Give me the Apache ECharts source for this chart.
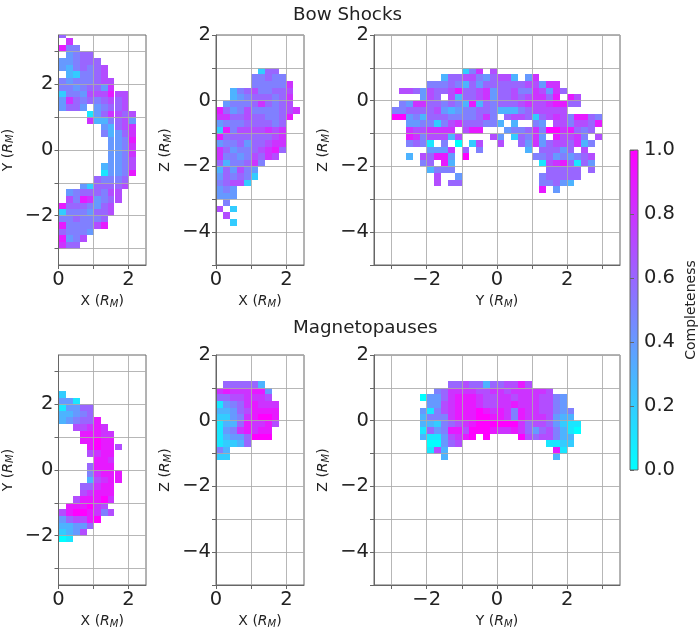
<!DOCTYPE html>
<html>
<head>
<meta charset="utf-8">
<title>Completeness</title>
<script src="https://cdn.jsdelivr.net/npm/echarts@6/dist/echarts.min.js"></script>
<style>
  html, body { margin: 0; padding: 0; background: #fff; }
  #chart { width: 699px; height: 633px; }
</style>
</head>
<body>
<div id="chart"></div>
<script>
// rows run top to bottom, one character per 0.2 R_M bin: "." is empty, 0-9 is tenths, X is 1.0
const bowXY = [
  "6", ".8", "955", ".4566", "445666", "4356567", ".325567", "54555677", "55456648",
  "2554777977", "4865656767", "4664.45667", "....1468767", "....8335674", "......43678",
  "......53468", ".......4459", ".......4458", ".......4458", ".......4457", "......34457",
  "......14459", ".....65556", "...4266667", ".45666577", ".75984567", "96665467",
  "25554667", "5565556", "9555579", "65554", "9457", "866"
];
const bowXZ = [
  "......266", ".....55655", ".....555558", "..356755667", "..345666568", ".4555686567",
  "964575555678", "88667665569", "4555666656", "2957777878", "9666666678", "4556466788",
  "8645567896", "855457687", "6355685", "364754", "465652", "56772", "454", "444",
  ".5", "7.2", ".7", "..2"
];
const bowYZ = [
  "..........258.7",
  ".......36677546773.48",
  ".....5556536466666677488",
  ".776476679667846675587486",
  "....476.7366784667678869.97",
  ".54886656539365666787789966",
  "5566667434556653335677777",
  "XX4536665555685.67762678759965",
  "..44552578666553.3..54.7757769",
  "..8778888.799...455685XX89656.",
  "..98577737....74.26584.97785.7",
  "..5651.5.0.27..7..64846776835.",
  ".....4448.6.5......3.66646.7..",
  "..3.76994.X.........556454567.",
  "....56.93............17896164.",
  ".....3555.............66666.6.",
  "......7..4...........566666...",
  "......7.66...........55643....",
  ".....................9.4"
];
const mpXY = [
  "2", "441", "14466", "33456", "345669", "..77898", "...99988", "...99X99", "....9X997",
  "....7899", ".....998", "....6999", "....58999", "....37899", "...66899", "...78999",
  "..7999X8", ".999X87", "79XX9857", "46779X", "33446", "2347", "01"
];
const mpXZ = [
  ".666663", "89888994", "66778887", "145689888", "334679999", "224589XX9",
  "133698897", "14589899", "13446XXX", "12236", "53", "22"
];
const mpYZ = [
  "....667663667797",
  "..56888877887888887",
  "044689998778878887754",
  ".44789998778898887754",
  "41578999X9898598877545",
  "35558999XX998598887433",
  "33256789XXXXXX867764211",
  "1645997XXX9889864675310",
  "3114789X.X....X7677533",
  ".00467............1122",
  ".173...............91",
  "...3...............3"
];

const xTicksSide = [0, 1, 2];
const xLabelsSide = [0, 2];
const yTicksXY = [-3, -2, -1, 0, 1, 2, 3];
const yLabelsXY = [-2, 0, 2];
const zTicks = [-5, -4, -3, -2, -1, 0, 1, 2];
const zLabels = [-4, -2, 0, 2];
const yTicksWide = [-3, -2, -1, 0, 1, 2, 3];
const yLabelsWide = [-2, 0, 2];
const colorbarRange = [[0, 1]];

const BIN = 0.2;
const TEXT = '#222';
const SPINE = '#666';
const GRIDLINE = 'rgba(170,170,170,0.85)';
const FONT = '"DejaVu Sans", sans-serif';
const LOW = '#00ffff';
const HIGH = '#ff00ff';

// 行字串轉成 [x, y, value]
function toCells(rows, firstX, topY) {
  const cells = [];
  rows.forEach((row, r) => {
    row.split('').forEach((ch, c) => {
      if (ch === '.') return;
      const value = ch === 'X' ? 1 : Number(ch) / 10;
      cells.push([
        Math.round((firstX + c * BIN) * 10) / 10,
        Math.round((topY - r * BIN) * 10) / 10,
        value
      ]);
    });
  });
  return cells;
}

const renderCell = (params, api) => {
  const a = api.coord([api.value(0), api.value(1) + BIN]);
  const b = api.coord([api.value(0) + BIN, api.value(1)]);
  const x = Math.round(a[0]);
  const y = Math.round(a[1]);
  return {
    type: 'rect',
    shape: { x, y, width: Math.round(b[0]) - x, height: Math.round(b[1]) - y },
    style: { fill: api.visual('color') }
  };
};

// colorbar
const renderBar = (params, api) => {
  const a = api.coord([0, api.value(1)]);
  const b = api.coord([1, api.value(0)]);
  return {
    type: 'rect',
    shape: { x: a[0], y: a[1], width: b[0] - a[0], height: b[1] - a[1] },
    style: {
      fill: new echarts.graphic.LinearGradient(0, 0, 0, 1, [
        { offset: 0, color: HIGH },
        { offset: 1, color: LOW }
      ]),
      stroke: SPINE,
      lineWidth: 1
    }
  };
};

const minus = (v) => String(v).replace('-', '\u2212');

const axisTitle = (letter) => '{t|' + letter + ' (}{i|R}{s|M}{t|)}';
const axisTitleRich = {
  t: { fontFamily: FONT, fontSize: 14, color: TEXT },
  i: { fontFamily: FONT, fontSize: 14, color: TEXT, fontStyle: 'italic' },
  s: { fontFamily: FONT, fontSize: 10, color: TEXT, fontStyle: 'italic', verticalAlign: 'bottom', padding: [5, 0, 0, 0] }
};

const panels = [
  { cells: toCells(bowXY, 0, 3.4), left: 58, top: 35, w: 88, h: 230, x: [0, 2.5, xTicksSide, xLabelsSide], y: [-3.5, 3.5, yTicksXY, yLabelsXY], xn: 'X', yn: 'Y' },
  { cells: toCells(bowXZ, 0, 0.8), left: 216, top: 35, w: 88, h: 230, x: [0, 2.5, xTicksSide, xLabelsSide], y: [-5, 2, zTicks, zLabels], xn: 'X', yn: 'Z' },
  { cells: toCells(bowYZ, -3, 0.8), left: 374, top: 35, w: 246, h: 230, x: [-3.5, 3.5, yTicksWide, yLabelsWide], y: [-5, 2, zTicks, zLabels], xn: 'Y', yn: 'Z' },
  { cells: toCells(mpXY, 0, 2.2), left: 58, top: 355, w: 88, h: 230, x: [0, 2.5, xTicksSide, xLabelsSide], y: [-3.5, 3.5, yTicksXY, yLabelsXY], xn: 'X', yn: 'Y' },
  { cells: toCells(mpXZ, 0, 1.0), left: 216, top: 355, w: 88, h: 230, x: [0, 2.5, xTicksSide, xLabelsSide], y: [-5, 2, zTicks, zLabels], xn: 'X', yn: 'Z' },
  { cells: toCells(mpYZ, -2.2, 1.0), left: 374, top: 355, w: 246, h: 230, x: [-3.5, 3.5, yTicksWide, yLabelsWide], y: [-5, 2, zTicks, zLabels], xn: 'Y', yn: 'Z' }
];

const baseAxis = (range, name, nameGap, labelMargin, labelPadding) => ({
  type: 'value',
  min: range[0],
  max: range[1],
  z: 5,
  name,
  nameLocation: 'middle',
  nameGap,
  nameTextStyle: { rich: axisTitleRich },
  axisLine: { show: true, onZero: false, lineStyle: { color: SPINE, width: 1 } },
  axisTick: { show: true, length: 4, customValues: range[2], lineStyle: { color: SPINE } },
  axisLabel: {
    show: true,
    customValues: range[3],
    fontFamily: FONT,
    fontSize: 19.5,
    color: TEXT,
    margin: labelMargin,
    padding: labelPadding,
    hideOverlap: false,
    formatter: minus
  },
  splitLine: { show: true, lineStyle: { color: GRIDLINE, width: 1 } }
});

const titleStyle = { fontFamily: FONT, fontSize: 18.3, fontWeight: 'normal', color: TEXT };

const option = {
  animation: false,
  backgroundColor: '#fff',
  title: [
    { text: 'Bow Shocks', left: 288, top: 1, textStyle: titleStyle },
    { text: 'Magnetopauses', left: 288, top: 314, textStyle: titleStyle }
  ],
  grid: panels.map((p) => ({
    show: true,
    left: p.left,
    top: p.top,
    width: p.w,
    height: p.h,
    borderColor: SPINE,
    borderWidth: 1,
    backgroundColor: 'transparent'
  })).concat([{
    left: 630,
    top: 150,
    width: 12,
    height: 320
  }]),
  xAxis: panels.map((p, i) => ({
    gridIndex: i,
    ...baseAxis(p.x, axisTitle(p.xn), 29, 5, 0)
  })).concat([{ gridIndex: 6, type: 'value', min: 0, max: 1, show: false }]),
  yAxis: panels.map((p, i) => ({
    gridIndex: i,
    ...baseAxis(p.y, axisTitle(p.yn), 43, 5, [6, 0, 0, 0])
  })).concat([{
    gridIndex: 6,
    type: 'value',
    min: 0,
    max: 1,
    interval: 0.2,
    position: 'right',
    z: 6,
    name: 'Completeness',
    nameLocation: 'middle',
    nameGap: 46,
    nameRotate: 90,
    nameTextStyle: { fontFamily: FONT, fontSize: 14, color: TEXT },
    axisLine: { show: false },
    axisTick: { show: true, length: 4, lineStyle: { color: SPINE } },
    axisLabel: { fontFamily: FONT, fontSize: 19.5, color: TEXT, margin: 6, padding: [6, 0, 0, 0], formatter: (v) => v.toFixed(1) },
    splitLine: { show: false }
  }]),
  visualMap: {
    type: 'continuous',
    show: false,
    seriesIndex: [0, 1, 2, 3, 4, 5],
    dimension: 2,
    min: 0,
    max: 1,
    inRange: { color: [LOW, HIGH] }
  },
  series: panels.map((p, i) => ({
    type: 'custom',
    xAxisIndex: i,
    yAxisIndex: i,
    z: 1,
    clip: true,
    silent: true,
    encode: { x: 0, y: 1 },
    renderItem: renderCell,
    data: p.cells
  })).concat([{
    type: 'custom',
    xAxisIndex: 6,
    yAxisIndex: 6,
    z: 1,
    silent: true,
    encode: { y: [0, 1] },
    renderItem: renderBar,
    data: colorbarRange
  }])
};

const chart = echarts.init(document.getElementById('chart'), null, { renderer: 'canvas' });
chart.setOption(option);
</script>
</body>
</html>
